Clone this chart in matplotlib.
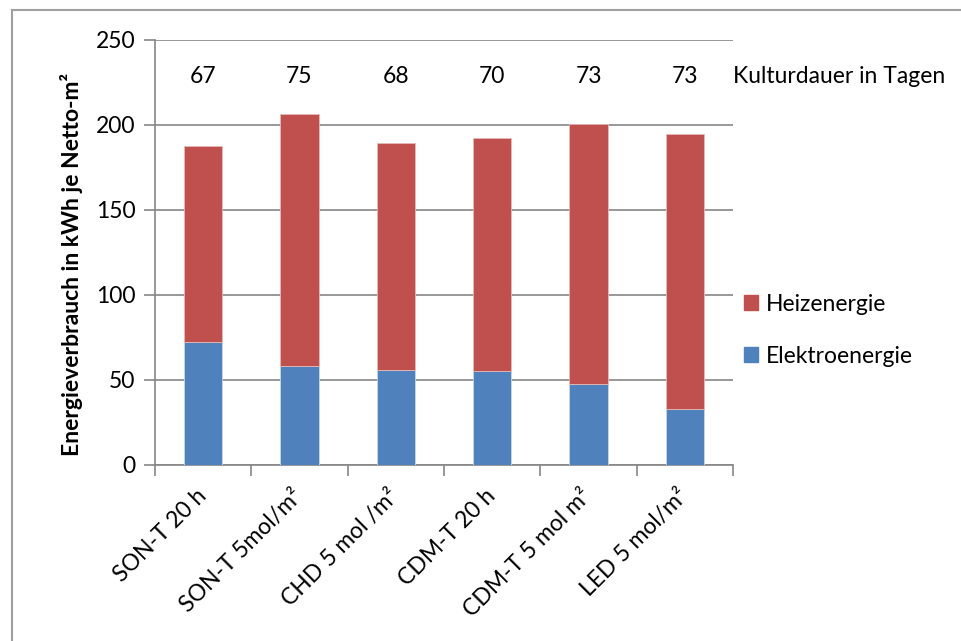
import numpy as np
import matplotlib.pyplot as plt
from matplotlib.lines import Line2D
from matplotlib.patches import Patch

# Energieverbrauch je Belichtungsvariante
varianten = ["SON-T 20 h", "SON-T 5mol/m²", "CHD 5 mol /m²",
             "CDM-T 20 h", "CDM-T 5 mol m²", "LED 5 mol/m²"]
elektro = [72.0, 58.2, 56.0, 55.0, 47.4, 32.5]
heizung = [115.7, 147.9, 133.1, 137.2, 153.2, 162.2]
kulturdauer = [67, 75, 68, 70, 73, 73]

rot = "#C0504D"
blau = "#4F81BD"
grau = "#868686"

plt.rcParams["font.family"] = ["Lato", "DejaVu Sans"]
plt.rcParams["font.size"] = 16.5

fig = plt.figure(figsize=(9.62, 6.41), dpi=100)
ax = fig.add_axes([0.161, 0.275, 0.601, 0.663])

x = np.arange(len(varianten))
ax.bar(x, elektro, width=0.4, color=blau, edgecolor="#C9D7EA", linewidth=0.6,
       zorder=3)
ax.bar(x, heizung, width=0.4, bottom=elektro, color=rot, edgecolor="#E5B9B8",
       linewidth=0.6, zorder=3)

ax.set_xlim(-0.5, len(varianten) - 0.5)
ax.set_ylim(0, 250)
ax.set_yticks(np.arange(0, 251, 50))
ax.yaxis.grid(True, color=grau, linewidth=1.2, zorder=0)

# Striche an den Kategoriegrenzen, Beschriftung in der Mitte
ax.set_xticks(np.arange(-0.5, len(varianten), 1.0))
ax.set_xticklabels([])
ax.set_xticks(x, minor=True)
ax.set_xticklabels(varianten, minor=True, rotation=45, ha="right",
                   va="center", rotation_mode="anchor")
ax.tick_params(axis="x", which="major", length=8, width=1.2, color=grau)
ax.tick_params(axis="x", which="minor", length=0, pad=20)
ax.tick_params(axis="y", length=8, width=1.2, color=grau, pad=6)

for s in ["top", "right"]:
    ax.spines[s].set_visible(False)
for s in ["left", "bottom"]:
    ax.spines[s].set_color(grau)
    ax.spines[s].set_linewidth(1.2)

for xi, tage in zip(x, kulturdauer):
    ax.text(xi, 228.5, str(tage), ha="center", va="center", clip_on=False)
ax.text(len(varianten) - 0.5, 228.5, "Kulturdauer in Tagen", ha="left",
        va="center", clip_on=False)

fig.text(72 / 962, 0.588, "Energieverbrauch in kWh je Netto-m²", rotation=90,
         ha="center", va="center", fontweight="bold", fontsize=16.5)

handles = [Patch(color=rot, label="Heizenergie"),
           Patch(color=blau, label="Elektroenergie")]
fig.legend(handles=handles, loc="center left", bbox_to_anchor=(0.752, 0.485),
           frameon=False, handlelength=0.6, handleheight=0.6,
           handletextpad=0.35, labelspacing=1.35)

# Rahmen links und oben
fig.add_artist(Line2D([12 / 962, 12 / 962], [0, 1 - 10 / 641],
                      transform=fig.transFigure, color="#A0A0A0", linewidth=1.5))
fig.add_artist(Line2D([12 / 962, 1], [1 - 10 / 641, 1 - 10 / 641],
                      transform=fig.transFigure, color="#A0A0A0", linewidth=1.5))

fig.savefig("out.png", dpi=100)
